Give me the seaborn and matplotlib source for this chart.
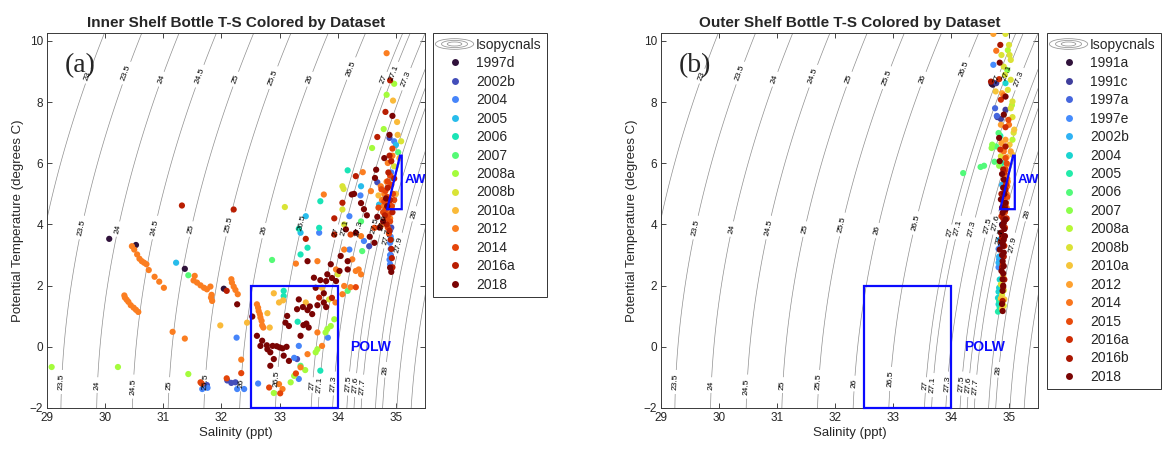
import numpy as np
import pandas as pd
import matplotlib
matplotlib.use("Agg")
import matplotlib.pyplot as plt
import seaborn as sns
from matplotlib.legend_handler import HandlerBase
from matplotlib.patches import Ellipse, Rectangle, Polygon
from matplotlib.lines import Line2D

# ---------------- data (salinity, potential temperature) ----------------
INNER_NAMES = ["1997d", "2002b", "2004", "2005", "2006", "2007", "2008a",
               "2008b", "2010a", "2012", "2014", "2016a", "2018"]
OUTER_NAMES = ["1991a", "1991c", "1997a", "1997e", "2002b", "2004", "2005",
               "2006", "2007", "2008a", "2008b", "2010a", "2012", "2014",
               "2015", "2016a", "2016b", "2018"]

IN_1997D = [(30.07, 3.53), (30.53, 3.33), (31.37, 2.55), (32.04, 1.90)]
IN_2002B = [(34.89, 6.83), (34.68, 5.38), (34.54, 3.29), (33.30, -0.40), (32.10, -1.10),
            (32.17, -1.18), (32.24, -1.16), (31.75, -1.25), (34.92, 3.90), (34.91, 3.00)]
IN_2004 = [(34.97, 6.72), (34.39, 4.95), (34.20, 4.27), (33.68, 3.73), (34.45, 3.46),
           (34.20, 3.18), (32.26, 0.30), (33.83, 0.30), (33.33, 0.03), (33.25, -0.36),
           (33.33, -1.05), (32.63, -1.20), (32.27, -1.38), (32.39, -1.38), (31.67, -1.38),
           (31.76, -1.34), (34.90, 3.80), (34.91, 3.60), (34.90, 3.40), (34.91, 3.20),
           (34.90, 3.00), (34.89, 2.85), (34.90, 2.70), (34.92, 5.70)]
IN_2005 = [(35.00, 6.60), (34.94, 5.52), (34.40, 5.25), (33.45, 4.27), (34.71, 4.65),
           (34.80, 4.43), (33.36, 3.73), (31.22, 2.75), (34.92, 3.50)]
IN_2006 = [(34.17, 5.77), (33.70, 4.76), (33.33, 3.86), (33.68, 3.89), (33.48, 3.24),
           (33.36, 3.02), (33.07, 1.83), (33.07, 1.66), (33.31, 0.82), (33.70, -0.78)]
IN_2007 = [(35.04, 6.36), (34.42, 3.13), (32.87, 2.84), (31.43, 2.34), (34.17, 1.83),
           (34.40, 4.10), (33.36, -0.62)]
IN_2008A = [(34.97, 8.60), (34.84, 8.24), (34.79, 7.12), (34.59, 6.50), (33.79, 0.47),
            (33.82, 0.58), (33.88, 0.68), (33.94, 0.90), (33.62, -0.18), (33.65, -0.08),
            (33.44, -0.76), (33.19, -1.16), (32.90, -1.51), (31.43, -0.89), (30.22, -0.66),
            (29.08, -0.66), (33.25, -0.95)]
IN_2008B = [(35.09, 6.72), (34.08, 5.25), (34.10, 5.16), (33.09, 4.57), (34.08, 4.49),
            (34.11, 4.00), (34.00, 2.37), (33.85, 1.55), (34.97, 5.90)]
IN_2010A = [(34.95, 8.05), (35.02, 7.35), (35.03, 6.93), (35.06, 6.17), (33.73, 1.93),
            (32.90, 1.75), (32.99, 1.45), (33.06, 1.52), (32.79, 1.10), (32.83, 0.63),
            (33.45, 1.45), (32.44, 0.79), (31.98, 0.70), (35.00, 5.00), (34.70, 4.95)]
IN_2012 = [(34.84, 9.60), (34.94, 6.25), (34.86, 6.01), (34.43, 5.71), (34.57, 5.09),
           (34.74, 5.25), (33.76, 4.98), (34.40, 3.62), (34.74, 3.95), (34.11, 3.18),
           (34.25, 2.86), (33.65, 2.80), (33.28, 2.72), (33.97, 2.53), (34.31, 2.48),
           (34.36, 2.53), (34.40, 2.37), (34.11, 1.99), (34.22, 1.95), (34.08, 1.72),
           (33.96, 1.45), (33.65, 0.47), (33.73, 0.03), (33.48, -0.24), (33.36, -0.67),
           (32.99, -1.22), (33.05, -1.38), (32.34, -0.42), (31.16, 0.49), (31.37, 0.27),
           (34.84, 5.40), (34.80, 5.00), (34.79, 4.60), (34.86, 4.45), (34.90, 4.20),
           (34.76, 4.80),
           (30.46, 3.29), (30.50, 3.18), (30.55, 3.02), (30.59, 2.88), (30.63, 2.80),
           (30.67, 2.75), (30.71, 2.70), (30.75, 2.51), (30.85, 2.29), (30.93, 2.13),
           (31.01, 1.93), (30.33, 1.68), (30.34, 1.61), (30.37, 1.54), (30.40, 1.47),
           (30.44, 1.36), (30.49, 1.28), (30.53, 1.21), (30.57, 1.14), (31.54, 2.32),
           (31.52, 2.17), (31.58, 2.10), (31.64, 2.01), (31.70, 1.93), (31.75, 1.88),
           (31.81, 1.97), (31.82, 1.61), (31.84, 1.50), (31.83, 1.70), (32.17, 2.21),
           (32.18, 2.10), (32.21, 1.97), (32.24, 1.86), (32.28, 1.72), (32.61, 1.39),
           (32.63, 1.28), (32.64, 1.17), (32.66, 1.07), (32.67, 0.96), (32.69, 0.85),
           (32.70, 0.70), (32.72, 0.63)]
IN_2014 = [(34.94, 6.48), (34.86, 5.41), (33.28, -0.87), (32.82, -1.33), (33.01, -1.52),
           (32.34, -0.86), (32.09, -1.03), (31.64, -1.16), (31.66, -1.20), (34.22, 3.67),
           (34.63, 3.89), (34.31, 1.95), (34.82, 5.10), (34.85, 4.90), (34.88, 4.70),
           (34.83, 4.50), (34.87, 4.30), (34.90, 4.10), (34.86, 3.90), (34.92, 5.30),
           (34.95, 5.00), (34.90, 5.60), (34.80, 4.75), (34.78, 4.40), (34.93, 4.60),
           (34.88, 3.70), (34.84, 4.20), (34.75, 5.15), (34.97, 4.80), (34.70, 4.55)]
IN_2016A = [(34.90, 8.71), (34.82, 7.68), (34.68, 6.86), (34.89, 6.25), (34.92, 6.07),
            (34.31, 5.58), (34.08, 4.71), (31.32, 4.62), (32.21, 4.49), (33.94, 4.20),
            (33.45, 3.53), (33.94, 3.67), (32.09, 1.83), (33.68, 1.61), (33.90, 1.60),
            (34.90, 4.80), (34.86, 5.20), (34.94, 4.40), (34.89, 3.80), (34.91, 3.50),
            (34.92, 3.20), (34.93, 2.90), (34.94, 2.60), (34.84, 4.00), (34.97, 5.50),
            (34.81, 4.30), (34.87, 5.70)]
IN_2018 = [(34.94, 7.55), (34.89, 6.93), (34.80, 6.17), (34.66, 5.79), (34.64, 5.52),
           (34.24, 4.98), (34.28, 5.00), (34.40, 4.70), (34.45, 4.50), (34.50, 4.30),
           (34.14, 3.84), (34.31, 3.73), (34.63, 3.40), (34.05, 2.97), (34.17, 2.80),
           (33.48, 2.80), (33.88, 2.70), (34.03, 2.48), (34.17, 2.53), (33.82, 2.37),
           (33.90, 2.25), (33.59, 2.26), (33.70, 2.18), (33.80, 2.15), (33.97, 2.15),
           (33.62, 1.93), (33.76, 1.75), (32.53, 0.99), (32.27, 1.39), (33.13, 1.01),
           (33.10, 0.79), (33.16, 0.68), (33.30, 1.23), (33.33, 1.55), (33.40, 1.30),
           (33.48, 1.20), (33.56, 1.07), (33.52, 1.32), (33.65, 1.36), (33.76, 1.45),
           (33.80, 1.30), (33.41, 0.71), (33.50, 0.63), (33.46, 0.76), (33.36, 0.36),
           (32.61, 0.36), (32.67, 0.03), (32.70, 0.20), (32.79, -0.08), (32.84, -0.18),
           (32.90, -0.40), (32.84, -0.62), (33.07, -0.29), (33.16, -0.46), (32.88, 0.03),
           (32.95, 0.02), (33.00, -0.02), (33.05, -0.05), (32.78, 0.05), (33.12, 0.00),
           (34.90, 2.59), (34.92, 2.45), (34.85, 4.60), (34.83, 4.85), (34.78, 4.10),
           (34.72, 3.90), (34.55, 3.60), (34.68, 4.25)]

OUT_1991A = [(34.72, 8.57), (34.70, 8.60), (34.88, 4.00)]
OUT_1991C = [(34.78, 8.62), (34.94, 7.75), (34.80, 7.51), (34.86, 7.45)]
OUT_1997A = [(34.76, 7.80), (34.79, 7.55), (34.86, 3.30)]
OUT_1997E = [(34.73, 9.22), (34.83, 2.86), (34.82, 3.20), (34.82, 2.60)]
OUT_2002B = [(34.88, 5.30), (34.83, 2.95), (34.82, 2.75), (34.84, 3.50)]
OUT_2004 = [(34.94, 8.62), (34.83, 1.93), (34.82, 1.39), (34.81, 1.60), (34.84, 2.20),
            (34.82, 1.80)]
OUT_2005 = [(34.88, 6.01), (34.84, 1.28), (34.83, 1.50), (34.85, 6.90), (34.81, 1.15)]
OUT_2006 = [(34.82, 6.99), (34.78, 6.55), (34.21, 5.68), (34.51, 5.88), (34.57, 5.92),
            (34.75, 6.05)]
OUT_2007 = [(34.97, 9.05), (34.71, 6.61), (34.83, 5.92), (34.70, 6.50)]
OUT_2008A = [(35.06, 6.77), (35.05, 7.90), (34.98, 9.70)]
OUT_2008B = [(34.94, 10.23), (35.00, 9.87), (34.87, 9.54), (35.01, 9.54), (35.03, 9.38),
             (34.91, 9.16), (34.93, 8.89), (35.03, 8.73), (35.06, 8.02), (35.03, 7.80),
             (35.06, 7.51), (34.86, 6.23), (34.86, 2.04), (34.91, 1.85), (34.91, 1.34),
             (34.88, 1.70), (35.08, 7.00), (34.98, 8.40)]
OUT_2010A = [(34.77, 8.35), (35.09, 7.10), (35.01, 6.61), (35.06, 6.28), (34.86, 1.58),
             (34.90, 2.30), (34.88, 1.25), (34.92, 1.55)]
OUT_2012 = [(34.73, 10.23), (34.88, 8.29), (34.86, 7.26), (34.94, 6.77), (34.87, 6.66),
            (35.03, 6.39), (34.97, 5.96), (34.92, 6.50), (34.98, 5.40), (34.96, 6.20)]
OUT_2014 = [(34.78, 9.68), (34.91, 8.22), (35.00, 7.26), (34.91, 6.39), (34.93, 5.79),
            (34.97, 5.25), (34.95, 5.60), (34.92, 4.90), (34.96, 5.00), (34.95, 4.70),
            (34.97, 5.50), (34.93, 5.20), (34.96, 4.55)]
OUT_2015 = [(34.99, 7.42), (34.94, 6.17), (34.91, 4.71), (34.95, 5.40), (34.93, 4.40),
            (34.96, 6.00), (34.97, 4.90), (34.94, 5.80), (34.92, 3.60)]
OUT_2016A = [(34.83, 8.75), (34.86, 8.08), (34.94, 7.18), (34.85, 6.45), (34.90, 4.92),
             (34.87, 4.27), (34.92, 5.70), (34.93, 3.90), (34.95, 5.30), (34.96, 4.20),
             (34.92, 3.30), (34.89, 2.70)]
OUT_2016B = [(34.85, 9.87), (34.69, 8.67), (34.94, 6.55), (34.94, 5.14), (34.89, 1.50),
             (34.88, 3.60), (34.92, 2.20), (34.90, 5.80), (34.87, 5.00), (34.93, 4.60),
             (34.90, 4.20), (34.86, 3.45), (34.91, 2.95), (34.88, 2.60), (34.90, 1.95)]
OUT_2018 = [(34.84, 9.29), (34.94, 8.18), (34.91, 7.59), (34.83, 6.83), (34.84, 6.07),
            (34.91, 5.47), (34.94, 4.49), (34.91, 4.05), (34.86, 4.82), (34.94, 4.71),
            (34.89, 4.38), (34.94, 4.16), (34.89, 3.95), (34.86, 3.73), (34.93, 3.62),
            (34.89, 3.40), (34.84, 3.18), (34.91, 3.08), (34.89, 2.80), (34.91, 2.64),
            (34.87, 2.48), (34.89, 2.21), (34.89, 1.83), (34.89, 1.17), (34.90, 2.00),
            (34.88, 3.00), (34.90, 3.30), (34.92, 3.85), (34.88, 4.55), (34.90, 5.20),
            (34.88, 5.65), (34.92, 5.00), (34.90, 2.40), (34.88, 1.40), (34.91, 3.50)]

INNER_DATA = [IN_1997D, IN_2002B, IN_2004, IN_2005, IN_2006, IN_2007, IN_2008A,
              IN_2008B, IN_2010A, IN_2012, IN_2014, IN_2016A, IN_2018]
OUTER_DATA = [OUT_1991A, OUT_1991C, OUT_1997A, OUT_1997E, OUT_2002B, OUT_2004, OUT_2005,
              OUT_2006, OUT_2007, OUT_2008A, OUT_2008B, OUT_2010A, OUT_2012, OUT_2014,
              OUT_2015, OUT_2016A, OUT_2016B, OUT_2018]

ISO_LEVELS = [23, 23.5, 24, 24.5, 25, 25.5, 26, 26.5, 27, 27.1, 27.3, 27.5, 27.6,
              27.7, 27.9, 28, 28.2, 28.4]
POLW_BOX = (32.5, -2.0, 34.0, 2.0)
AW_POLY = [(34.85, 4.5), (35.07, 6.25), (35.10, 6.25), (35.10, 4.5)]


def sigma0(S, T):
    rw = (999.842594 + 6.793952e-2 * T - 9.095290e-3 * T**2 + 1.001685e-4 * T**3
          - 1.120083e-6 * T**4 + 6.536332e-9 * T**5)
    rho = (rw + S * (0.824493 - 4.0899e-3 * T + 7.6438e-5 * T**2 - 8.2467e-7 * T**3
                     + 5.3875e-9 * T**4)
           + S**1.5 * (-5.72466e-3 + 1.0227e-4 * T - 1.6546e-6 * T**2)
           + 4.8314e-4 * S**2)
    return rho - 1000.0


class IsoHandler(HandlerBase):
    def create_artists(self, legend, orig_handle, xdescent, ydescent, width, height,
                       fontsize, trans):
        cx = width / 2 - xdescent
        cy = height / 2 - ydescent
        arts = []
        for f in (1.0, 0.68, 0.38):
            arts.append(Ellipse((cx, cy), width * 1.15 * f, height * 1.1 * f, fill=False,
                                ec="#9a9a9a", lw=0.6, transform=trans))
        return arts


sns.set_style("ticks")
plt.rcParams["font.family"] = ["Liberation Sans", "DejaVu Sans"]

fig = plt.figure(figsize=(11.64, 4.49), dpi=100)
W, H = 1164, 449
axA = fig.add_axes([47 / W, 41 / H, 378 / W, 375 / H])
axB = fig.add_axes([661 / W, 41 / H, 377 / W, 375 / H])

Sg = np.linspace(28.5, 36.2, 400)
Tg = np.linspace(-3, 11.5, 400)
SS, TT = np.meshgrid(Sg, Tg)
SIG = sigma0(SS, TT)

# label rows (temperature where labels sit for each level)
LABEL_ROWS = {23: [8.85], 23.5: [8.95, 3.9, -1.15], 24: [8.75, 3.85, -1.25],
              24.5: [8.85, 3.9, -1.3], 25: [8.75, 3.85, -1.25], 25.5: [8.8, 4.0, -1.15],
              26: [8.75, 3.8, -1.2], 26.5: [9.1, 4.05, -1.05], 27: [8.75, 3.75, -1.25],
              27.1: [8.95, 3.9, -1.25], 27.3: [8.75, 3.85, -1.2], 27.5: [9.0, 3.95, -1.2],
              27.6: [4.05, -1.25], 27.7: [3.6, -1.3], 27.9: [3.35], 28: [4.35, -0.75]}


def label_positions():
    pos = []
    for lev, rows in LABEL_ROWS.items():
        for t in rows:
            s = np.interp(lev, sigma0(Sg, t), Sg)
            if 29.05 < s < 35.45:
                pos.append((s, t))
    return pos


def panel(ax, names, data, title, tag):
    pal = [plt.cm.turbo(v) for v in np.linspace(0, 1, len(names))]
    cs = ax.contour(SS, TT, SIG, levels=ISO_LEVELS, colors="#8f8f8f", linewidths=0.5)
    ax.clabel(cs, levels=[l for l in ISO_LEVELS if l in LABEL_ROWS], manual=label_positions(),
              inline=True, inline_spacing=2, fontsize=6, fmt=lambda v: f"{v:g}",
              colors="black")
    rows = []
    for n, pts in zip(names, data):
        for s, t in pts:
            rows.append({"S": s, "T": t, "dataset": n})
    df = pd.DataFrame(rows)
    sns.scatterplot(data=df, x="S", y="T", hue="dataset", hue_order=names,
                    palette=pal, s=20, linewidth=0, legend=False, ax=ax, zorder=3)
    x0, y0, x1, y1 = POLW_BOX
    ax.add_patch(Rectangle((x0, y0), x1 - x0, y1 - y0, fill=False, ec="#0a0aff", lw=1.6,
                           zorder=4, clip_on=False))
    ax.add_patch(Polygon(AW_POLY, closed=True, fill=False, ec="#0a0aff", lw=1.6, zorder=4))
    ax.text(34.22, 0.0, "POLW", color="#0a0aff", fontsize=10, fontweight="bold",
            va="center", ha="left", zorder=5)
    ax.text(35.15, 5.45, "AW", color="#0a0aff", fontsize=9.5, fontweight="bold",
            va="center", ha="left", zorder=5, clip_on=False)
    ax.text(29.3, 9.2, tag, fontsize=20, family="Liberation Serif", va="center", ha="left")
    ax.set_xlim(29, 35.5)
    ax.set_ylim(-2, 10.26)
    ax.set_xticks(range(29, 36))
    ax.set_yticks(range(-2, 11, 2))
    ax.tick_params(direction="in", top=True, right=True, length=3.5, width=0.6,
                   labelsize=8.5, colors="#262626", labelcolor="#262626", pad=3)
    for sp in ax.spines.values():
        sp.set_color("#3a3a3a")
        sp.set_linewidth(0.7)
    ax.set_xlabel("Salinity (ppt)", fontsize=9.5, color="#262626", labelpad=2)
    ax.set_ylabel("Potential Temperature (degrees C)", fontsize=9.5, color="#262626",
                  labelpad=4)
    ax.set_title(title, fontsize=11, fontweight="bold", pad=4)
    handles = [Line2D([], [])] + [Line2D([], [], ls="", marker="o", ms=5, mew=0, color=c)
                                  for c in pal]
    labels = ["Isopycnals"] + names
    return handles, labels


hA, lA = panel(axA, INNER_NAMES, INNER_DATA, "Inner Shelf Bottle T-S Colored by Dataset", "(a)")
hB, lB = panel(axB, OUTER_NAMES, OUTER_DATA, "Outer Shelf Bottle T-S Colored by Dataset", "(b)")

for h, l, xpix in ((hA, lA, 433), (hB, lB, 1047)):
    leg = fig.legend(h, l, loc="upper left", bbox_to_anchor=(xpix / W, 1 - 33 / H),
                     bbox_transform=fig.transFigure, frameon=True, fancybox=False,
                     framealpha=1, edgecolor="#333333", fontsize=10, handlelength=2.4,
                     handletextpad=0.35, labelspacing=0.32, borderpad=0.35,
                     borderaxespad=0, handler_map={hA[0]: IsoHandler(), hB[0]: IsoHandler()})
    leg.get_frame().set_linewidth(0.7)

fig.savefig("out.png", dpi=100)
